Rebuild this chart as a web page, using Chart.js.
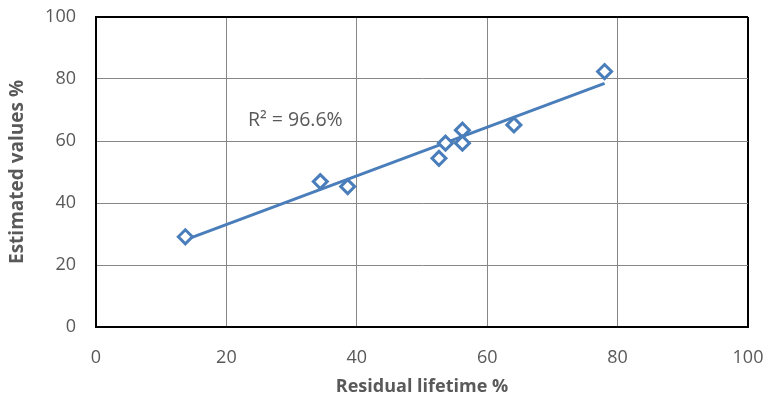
<!DOCTYPE html>
<html>
<head>
<meta charset="utf-8">
<script src="https://cdn.jsdelivr.net/npm/chart.js@4"></script>
<style>
  html, body { margin: 0; padding: 0; background: #fff; }
  #wrap { width: 769px; height: 398px; }
</style>
</head>
<body>
<div id="wrap"><canvas id="fitChart"></canvas></div>
<script>
  var residualLifetime = [13.7, 34.4, 38.6, 52.6, 53.6, 56.2, 56.2, 64.1, 78.0];
  var estimatedValues = [29.1, 46.9, 45.3, 54.4, 59.3, 63.5, 59.3, 65.2, 82.4];

  // trend line ends
  var trendX = [13.7, 78.0];
  var trendY = [28.1, 78.6];

  var fitLabel = 'R\u00b2 = 96.6%';
  var fitLabelAt = [23.3, 66.5];

  var blue = '#4a7ebb';
  var grey = '#595959';
  var fontFamily = '"Open Sans", "Liberation Sans", sans-serif';

  function toPoints(xs, ys) {
    return xs.map(function (x, i) { return { x: x, y: ys[i] }; });
  }

  function edgeColor(ctx) {
    var v = ctx.tick && ctx.tick.value;
    return (v === 0 || v === 100) ? '#000' : '#878787';
  }
  function edgeWidth(ctx) {
    var v = ctx.tick && ctx.tick.value;
    return (v === 0 || v === 100) ? 2 : 1;
  }

  var fitLabelPlugin = {
    id: 'fitLabel',
    afterDatasetsDraw: function (chart) {
      var c = chart.ctx;
      var px = chart.scales.x.getPixelForValue(fitLabelAt[0]);
      var py = chart.scales.y.getPixelForValue(fitLabelAt[1]);
      c.save();
      c.fillStyle = grey;
      c.font = '19.5px ' + fontFamily;
      c.textAlign = 'left';
      c.textBaseline = 'middle';
      c.fillText(fitLabel, px, py);
      c.restore();
    }
  };

  new Chart(document.getElementById('fitChart'), {
    type: 'scatter',
    data: {
      datasets: [
        {
          label: 'Trend',
          type: 'line',
          data: toPoints(trendX, trendY),
          borderColor: blue,
          borderWidth: 3,
          pointRadius: 0,
          fill: false,
          order: 2
        },
        {
          label: 'Estimated',
          data: toPoints(residualLifetime, estimatedValues),
          pointStyle: 'rectRot',
          pointRadius: 7,
          pointBorderWidth: 3,
          pointBorderColor: blue,
          pointBackgroundColor: '#fff',
          order: 1
        }
      ]
    },
    options: {
      responsive: true,
      maintainAspectRatio: false,
      animation: false,
      layout: { padding: { left: 0, right: 21, top: 17, bottom: 0 } },
      plugins: {
        legend: { display: false },
        tooltip: { enabled: false }
      },
      scales: {
        x: {
          type: 'linear',
          min: 0,
          max: 100,
          afterFit: function (s) {
            s.height = 71;
            s.paddingLeft = 0;
            s.paddingRight = 0;
          },
          ticks: { stepSize: 20, color: grey, padding: 20, font: { family: fontFamily, size: 18 } },
          grid: { color: edgeColor, lineWidth: edgeWidth, drawTicks: false },
          border: { color: '#000', width: 2 },
          title: {
            display: true,
            text: 'Residual lifetime %',
            color: grey,
            padding: { top: 3, bottom: 0 },
            font: { family: fontFamily, size: 18, weight: 'bold' }
          }
        },
        y: {
          min: 0,
          max: 100,
          afterFit: function (s) {
            s.width = 96;
            s.paddingTop = 0;
            s.paddingBottom = 0;
          },
          ticks: { stepSize: 20, color: grey, padding: 20, font: { family: fontFamily, size: 18 } },
          grid: { color: edgeColor, lineWidth: edgeWidth, drawTicks: false },
          border: { color: '#000', width: 2 },
          title: {
            display: true,
            text: 'Estimated values %',
            color: grey,
            padding: { top: 6, bottom: 0 },
            font: { family: fontFamily, size: 19, weight: 'bold' }
          }
        }
      }
    },
    plugins: [fitLabelPlugin]
  });
</script>
</body>
</html>
